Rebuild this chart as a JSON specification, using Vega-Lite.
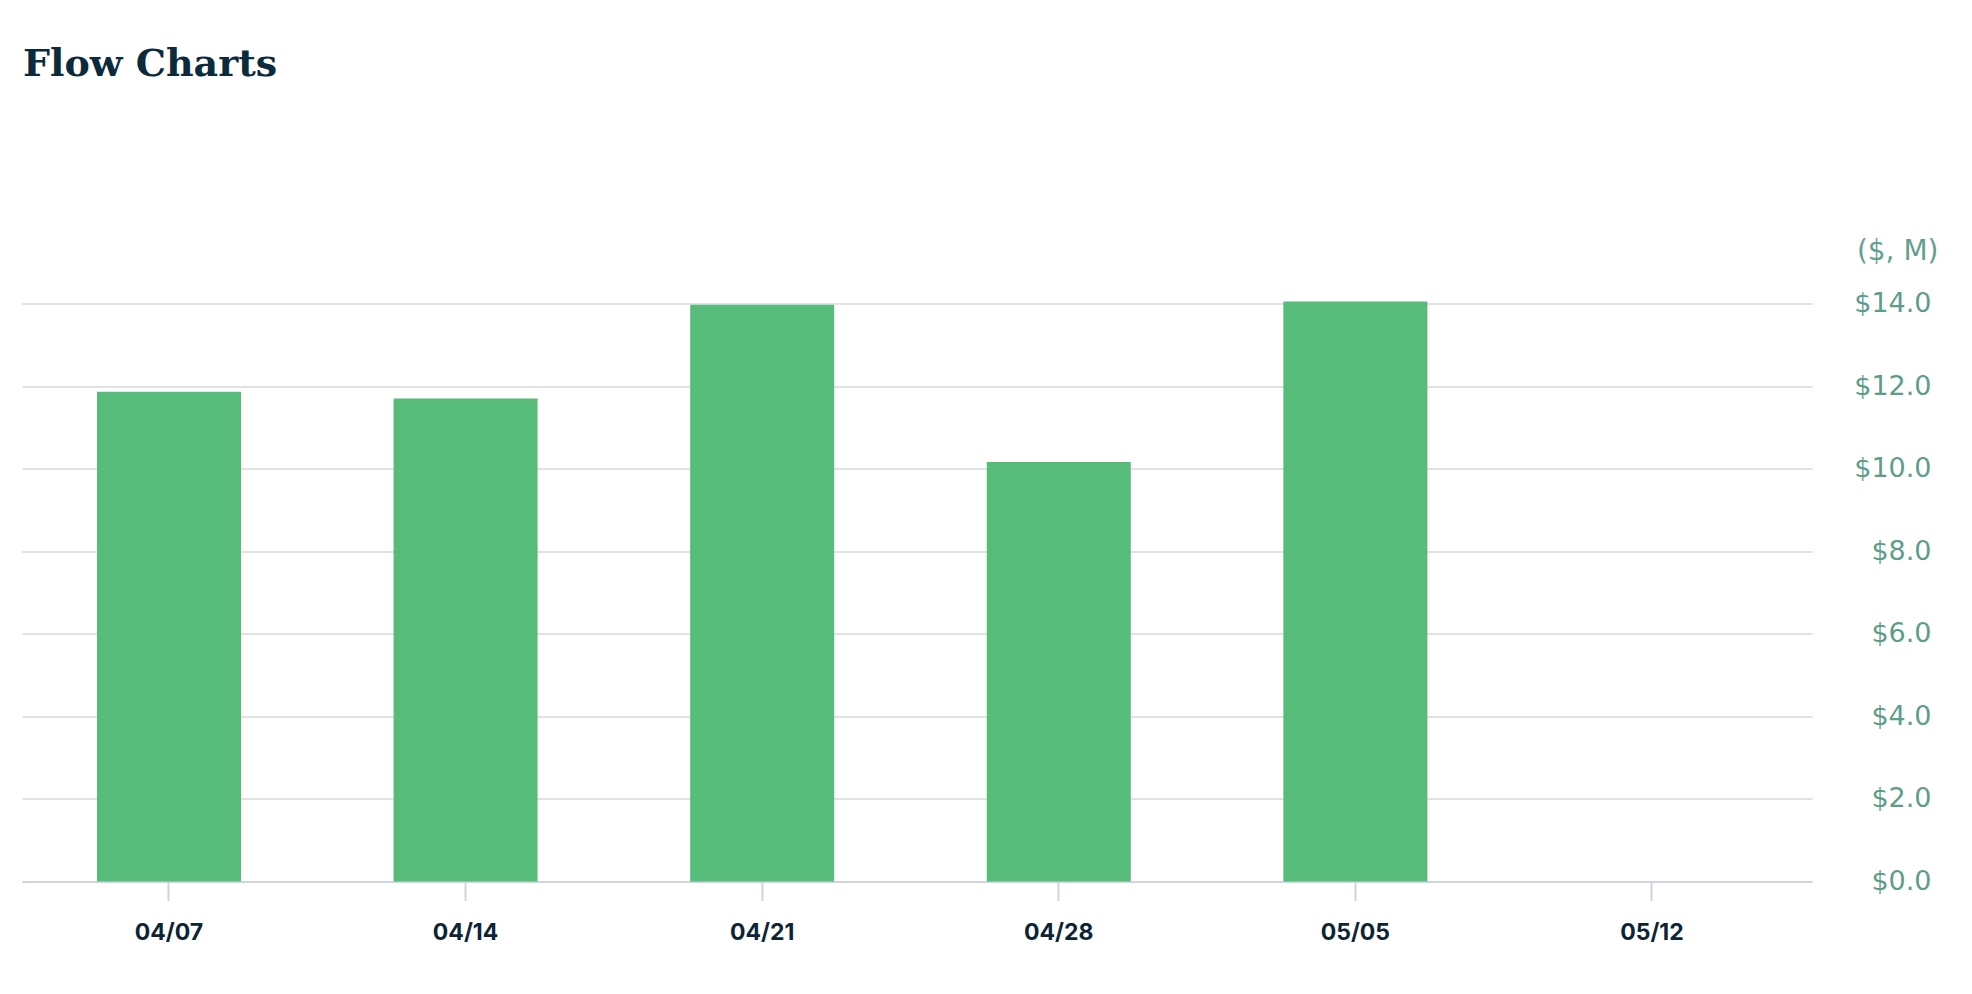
{
  "$schema": "https://vega.github.io/schema/vega-lite/v6.json",
  "autosize": {"type": "none"},
  "width": 1790,
  "height": 578,
  "padding": {"left": 22, "top": 303.5, "right": 160, "bottom": 112.5},
  "background": "white",
  "title": {
    "text": "Flow Charts",
    "anchor": "start",
    "frame": "group",
    "font": "DejaVu Serif",
    "fontWeight": "bold",
    "fontSize": 38,
    "color": "#0b2a3c",
    "baseline": "alphabetic",
    "offset": 123.5,
    "dx": 1
  },
  "data": {
    "values": [
      {"week": "04/07", "flow": 11.86},
      {"week": "04/14", "flow": 11.7},
      {"week": "04/21", "flow": 13.97},
      {"week": "04/28", "flow": 10.16},
      {"week": "05/05", "flow": 14.05}
    ]
  },
  "mark": {"type": "bar", "color": "#57bb7a", "clip": false},
  "encoding": {
    "x": {
      "field": "week",
      "type": "ordinal",
      "sort": null,
      "scale": {
        "domain": ["04/07", "04/14", "04/21", "04/28", "05/05", "05/12"],
        "paddingInner": 0.5145,
        "paddingOuter": 0.2748,
        "align": 0.46
      },
      "axis": {
        "title": null,
        "labelAngle": 0,
        "labelFont": "Inter",
        "labelFontWeight": "bold",
        "labelFontSize": 23,
        "labelColor": "#0d2436",
        "labelBaseline": "middle",
        "labelPadding": 32,
        "tickSize": 19,
        "tickWidth": 2,
        "tickColor": "#cdd5e0",
        "domainColor": "#cdd5e0",
        "domainWidth": 2,
        "grid": false
      }
    },
    "y": {
      "field": "flow",
      "type": "quantitative",
      "scale": {"domain": [0, 14], "nice": false},
      "axis": {
        "orient": "right",
        "values": [0, 2, 4, 6, 8, 10, 12, 14],
        "format": "$.1f",
        "title": "($, M)",
        "titleAngle": 0,
        "titleAlign": "right",
        "titleBaseline": "middle",
        "titleX": 126,
        "titleY": -52,
        "titleFont": "DejaVu Sans",
        "titleFontWeight": "normal",
        "titleFontSize": 28,
        "titleColor": "#64a090",
        "labelFont": "DejaVu Sans",
        "labelFontSize": 27,
        "labelColor": "#5e9c8b",
        "labelAlign": "right",
        "labelPadding": 119,
        "ticks": false,
        "tickSize": 0,
        "domain": false,
        "grid": true,
        "gridColor": "#e2e2e2",
        "gridWidth": 2
      }
    }
  },
  "config": {
    "view": {"stroke": null}
  }
}
